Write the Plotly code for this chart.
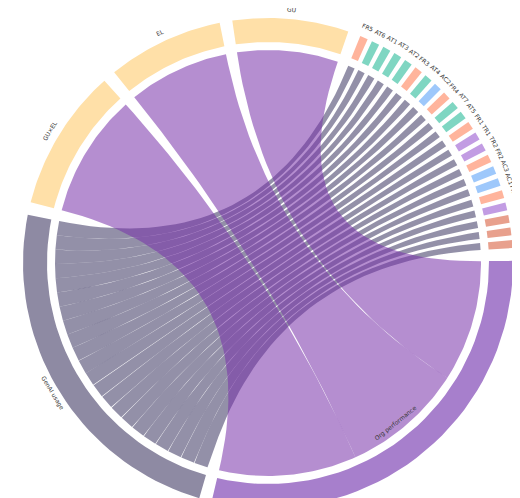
import numpy as np
import plotly.graph_objects as go

nodes = ["Org performance","GenAI usage","GU×EL","EL","GU",
         "FR5","AT6","AT1","AT3","AT2","FR3","AT4","AC2","FR4","AT7","AT5",
         "FR1","TR1","TR2","FR2","AC3","AC1","FR6","TR3","AB2","AB1","AB3"]
small = nodes[5:]
weights = [83,68,27,22,22] + [1.5]*len(small)
colors = {"AT":"#7fd6c2","FR":"#ffb49c","AC":"#9ec8fb","TR":"#c29ce3","AB":"#e8a08d"}
node_colors = ["#a77fcc","#8e8aa3","#ffe0a8","#ffe0a8","#ffe0a8"] + [colors[s[:2]] for s in small]
flows = [(s,"GenAI usage") for s in small] + [("GU","Org performance"),("EL","Org performance"),("GU×EL","Org performance")]
flow_vals = [1]*len(small) + [15,15,17]

big_gap, small_gap = 3.0, 1.1
gaps = [big_gap]*6 + [small_gap]*(len(small)-1)
u = (360 - sum(gaps))/sum(weights)
span = {}
a = 0.5
for k,(n,w) in enumerate(zip(nodes,weights)):
    span[n] = (a, a - w*u)
    g = big_gap if k < 5 or k == len(nodes)-1 else small_gap
    a = a - w*u - g

R_in, R1, R2 = 213, 221, 245
fig = go.Figure()
def arcpts(a0,a1,r,n=40):
    t = np.radians(np.linspace(a0,a1,n))
    return r*np.cos(t), r*np.sin(t)

ends = {n:[] for n in nodes}
for i,(s,t) in enumerate(flows):
    ends[s].append(i); ends[t].append(i)
pos = {}
order_key = {n:i for i,n in enumerate(nodes)}
for n in nodes:
    lst = ends[n]
    if n in ("GenAI usage","Org performance"):
        lst = sorted(lst, key=lambda i: -order_key[flows[i][0]])
    tot = sum(flow_vals[i] for i in lst)
    a0,a1 = span[n]
    cur = a0
    for i in lst:
        d = (a1-a0)*flow_vals[i]/tot
        pos[(n,i)] = (cur, cur+d)
        cur += d

def bez(p0,p2,n=40):
    t = np.linspace(0,1,n)[:,None]
    p0=np.array(p0); p2=np.array(p2)
    return ((1-t)**2*p0 + t**2*p2).T

for i,(s,t) in enumerate(flows):
    sa = pos[(s,i)]; ta = pos[(t,i)]
    x1,y1 = arcpts(sa[0],sa[1],R_in)
    x2,y2 = arcpts(ta[0],ta[1],R_in)
    b1 = bez((x1[-1],y1[-1]),(x2[0],y2[0]))
    b2 = bez((x2[-1],y2[-1]),(x1[0],y1[0]))
    xs = np.concatenate([x1,b1[0],x2,b2[0]]); ys = np.concatenate([y1,b1[1],y2,b2[1]])
    col = "rgba(75,70,110,0.6)" if t=="GenAI usage" else "rgba(120,50,170,0.55)"
    fig.add_trace(go.Scatter(x=xs,y=ys,fill="toself",fillcolor=col,line=dict(width=0),mode="lines",hoverinfo="skip"))

for k,(n,c) in enumerate(zip(nodes,node_colors)):
    a0,a1 = span[n]
    xo,yo = arcpts(a0,a1,R2); xi,yi = arcpts(a1,a0,R1)
    fig.add_trace(go.Scatter(x=np.concatenate([xo,xi]),y=np.concatenate([yo,yi]),fill="toself",fillcolor=c,
                             line=dict(width=0),mode="lines",hoverinfo="skip"))
    m = (a0+a1)/2
    big = k < 5
    if n == "Org performance":
        r, ang = 205, 90 - m - 180
    elif n == "GenAI usage":
        r, ang = 252, 90 - m - 180
    else:
        r, ang = (255 if big else 256), 90 - m
    fig.add_annotation(x=r*np.cos(np.radians(m)), y=r*np.sin(np.radians(m)), text=n, showarrow=False,
                       textangle=ang, font=dict(size=6, color="#333", family="DejaVu Sans"))

fig.update_layout(width=520,height=498,margin=dict(l=0,r=0,t=0,b=0),showlegend=False,
                  plot_bgcolor="white",paper_bgcolor="white",
                  xaxis=dict(range=[-260,260],visible=False),
                  yaxis=dict(range=[-243,255],visible=False,scaleanchor="x"))
fig.write_html("out.html")
